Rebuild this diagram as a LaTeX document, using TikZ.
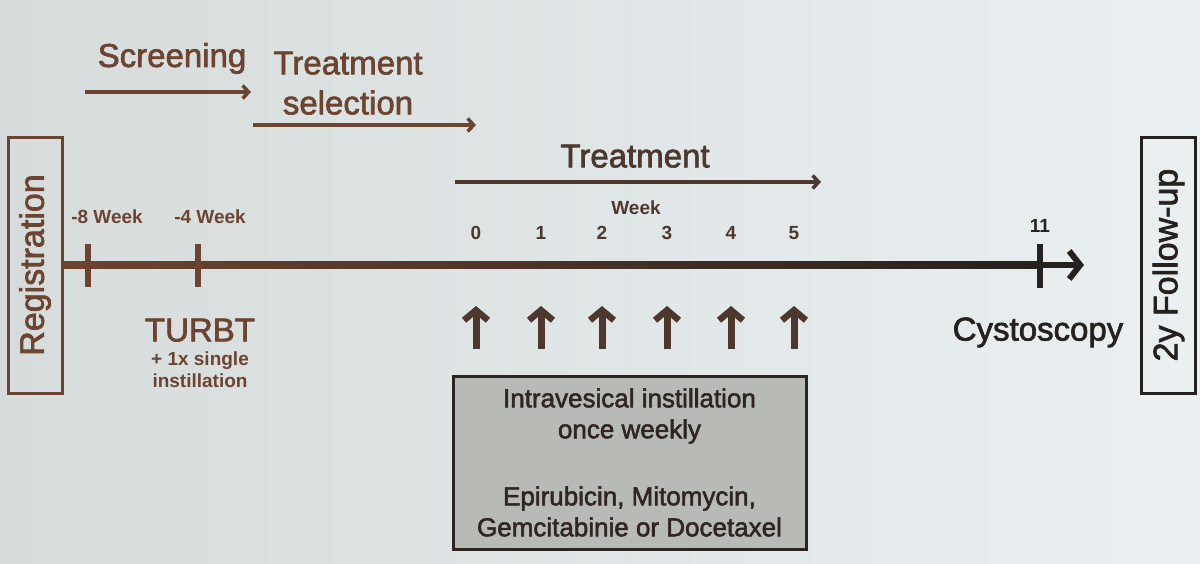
\documentclass[tikz,border=0pt]{standalone}
\usepackage{fontspec}
\setmainfont{Liberation Sans}
\newfontfamily\heavy{Liberation Sans}[FakeBold=2]
\usetikzlibrary{arrows.meta,calc}
\definecolor{bgL}{RGB}{214,220,219}
\definecolor{bgR}{RGB}{234,240,242}
\definecolor{brn}{RGB}{108,68,48}
\definecolor{dbrn}{RGB}{78,56,46}
\definecolor{blk}{RGB}{38,32,30}
\definecolor{boxfill}{RGB}{184,187,181}
\newcommand{\fs}[1]{\fontsize{#1}{#1}\selectfont}
\newcommand{\fsl}[2]{\fontsize{#1}{#2}\selectfont}
\tikzset{
  lbl/.style={inner sep=0pt, text depth=0pt},
  bigtxt/.style={lbl, font=\heavy\fs{33}},
  smalltxt/.style={lbl, font=\fs{19}\bfseries},
  phasearrow/.style={line width=4.5pt, -{Straight Barb[length=6pt,width=13pt,line width=3.5pt]}},
  uparrow/.style={line width=7pt, dbrn, -{Straight Barb[length=10pt,width=24pt,line width=6.5pt]}},
  tickmark/.style={line width=6.5pt},
  sidebox/.style={draw, line width=3pt, rotate=90, minimum width=256pt, minimum height=54pt, inner sep=0pt, font=\heavy\fs{34}}
}
\begin{document}
\begin{tikzpicture}[x=1pt,y=-1pt]
\useasboundingbox (0,0) rectangle (1200,563);
\shade[left color=bgL, right color=bgR] (0,0) rectangle (1200,563);

% side boxes
\node[sidebox, brn] (reg) at (35,265) {Registration};
\node[sidebox, blk] (fup) at (1168.5,265) {2y Follow-up};

% phase labels and arrows
\node[bigtxt, brn] (scr) at (172,55) {Screening};
\coordinate (scrA) at (85,92);
\coordinate (scrB) at (251,92);
\draw[phasearrow, brn] (scrA) -- (scrB);

\node[lbl, brn, align=center, font={\heavy\fsl{33}{40}}] (sel) at (348,83) {Treatment\\selection};
\coordinate (selA) at (253,125);
\coordinate (selB) at (476,125);
\draw[phasearrow, brn] (selA) -- (selB);

\node[bigtxt, dbrn] (trt) at (635,156) {Treatment};
\coordinate (trtA) at (455,182);
\coordinate (trtB) at (821,182);
\draw[phasearrow, dbrn] (trtA) -- (trtB);

% main timeline
\coordinate (tlend) at (1084,265);
\draw[line width=6.5pt, blk, -{Straight Barb[length=11pt,width=28pt,line width=6pt]}] (reg.south) -- (tlend);
\shade[left color=brn, right color=blk] ($(reg.south)+(0,-3.3)$) rectangle (1040,268.3);

% ticks
\coordinate (t8a) at (88,244);  \coordinate (t8b) at (88,287);
\coordinate (t4a) at (198,244); \coordinate (t4b) at (198,287);
\coordinate (t11a) at (1040,244); \coordinate (t11b) at (1040,288);
\draw[tickmark, brn] (t8a) -- (t8b);
\draw[tickmark, brn] (t4a) -- (t4b);
\draw[tickmark, blk] (t11a) -- (t11b);

\node[smalltxt, brn] (w8) at (107,217) {-8 Week};
\node[smalltxt, brn] (w4) at (210,217) {-4 Week};
\node[smalltxt, blk] (w11) at (1040,226) {11};
\node[smalltxt, dbrn] (wk) at (636,208) {Week};

\foreach \i/\x in {0/476,1/541,2/602,3/667,4/731,5/794}{
  \node[smalltxt, dbrn] (n\i) at (\x,233) {\i};
  \coordinate (ua\i) at (\x,349);
  \coordinate (ub\i) at (\x,306);
  \draw[uparrow] (ua\i) -- (ub\i);
}

% TURBT
\node[lbl, brn, font=\heavy\fs{33}] (turbt) at (200,330) {TURBT};
\node[lbl, brn, align=center, font={\fsl{19}{22}\bfseries}] (turbtsub) at (200,370) {+ 1x single\\instillation};

% Cystoscopy
\node[bigtxt, blk] (cys) at (1038,329) {Cystoscopy};

% treatment box
\node[draw=blk!90!brn, line width=3pt, fill=boxfill, minimum width=353pt, minimum height=173pt, inner sep=0pt,
      text=blk!85!brn, align=center, font={\heavy\fsl{26}{31}}] (box) at (629.5,462.5)
  {Intravesical instillation\\once weekly\\[36pt]Epirubicin, Mitomycin,\\Gemcitabinie or Docetaxel};
\end{tikzpicture}
\end{document}
